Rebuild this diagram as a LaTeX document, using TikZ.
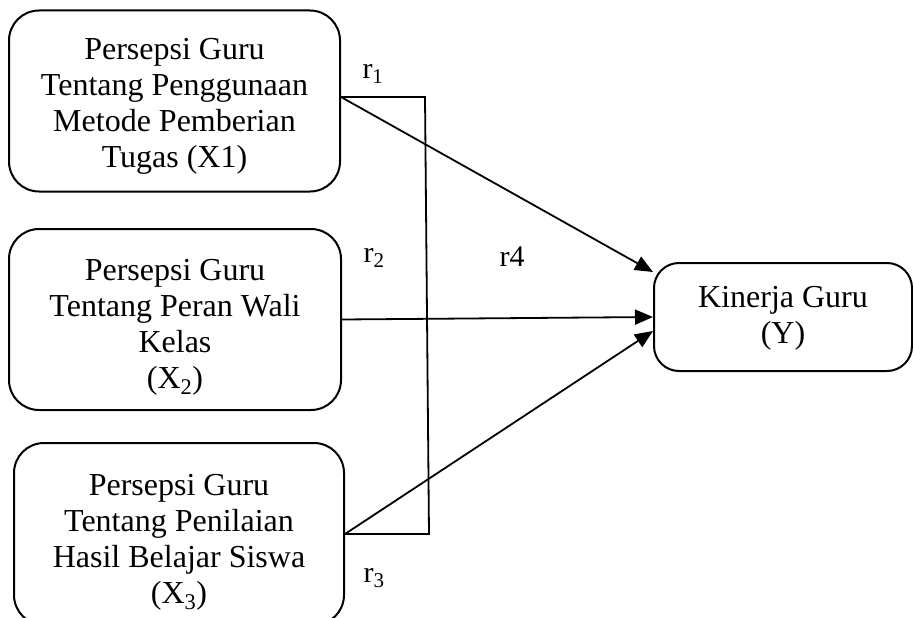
\documentclass[tikz,border=0pt]{standalone}
\usepackage{fontspec}
\setmainfont{Liberation Serif}
\usetikzlibrary{arrows.meta,calc}
\begin{document}
\begin{tikzpicture}[x=1pt,y=-1pt,
  box/.style={draw,line width=2pt,rounded corners=30pt,inner sep=0pt},
  txt/.style={align=center,font=\fontsize{32}{36}\selectfont,inner sep=0pt},
  link/.style={line width=1.8pt},
  arr/.style={link,-{Triangle[length=18pt,width=15pt]}},
  lab/.style={font=\fontsize{30}{34}\selectfont,inner sep=0pt}]
\useasboundingbox (0,0) rectangle (913,618);
\node[box,minimum width=331pt,minimum height=181pt] (b1) at (174.5,101) {};
\node[box,minimum width=332pt,minimum height=181pt] (b2) at (175,319.5) {};
\node[box,minimum width=330pt,minimum height=182pt] (b3) at (179,534) {};
\node[box,rounded corners=25pt,minimum width=258pt,minimum height=108pt] (y) at (783,317) {};
\node[txt] (t1) at (174.5,106)
  {Persepsi Guru\\Tentang Penggunaan\\Metode Pemberian\\Tugas (X1)};
\node[txt] (t2) at (175,327)
  {Persepsi Guru\\Tentang Peran Wali\\Kelas\\(X\textsubscript{2})};
\node[txt] (t3) at (179,542.5)
  {Persepsi Guru\\Tentang Penilaian\\Hasil Belajar Siswa\\(X\textsubscript{3})};
\node[txt] (ty) at (783,318.5) {Kinerja Guru\\(Y)};
\coordinate (s1) at ($(b1.east)+(0,-4)$);
\coordinate (c1) at (425,97);
\coordinate (c3) at (429,534);
\draw[link] (s1) -- (c1) -- (c3) -- (b3.east);
\draw[arr] (s1) -- ($(y.west)+(0,-45)$);
\draw[arr] (b2.east) -- (y.west);
\draw[arr] (b3.east) -- ($(y.west)+(0,14)$);
\node[lab] (r1) at (373,74) {r\textsubscript{1}};
\node[lab] (r2) at (374,258) {r\textsubscript{2}};
\node[lab] (r4) at (512,257) {r4};
\node[lab] (r3) at (374,578) {r\textsubscript{3}};
\end{tikzpicture}
\end{document}
